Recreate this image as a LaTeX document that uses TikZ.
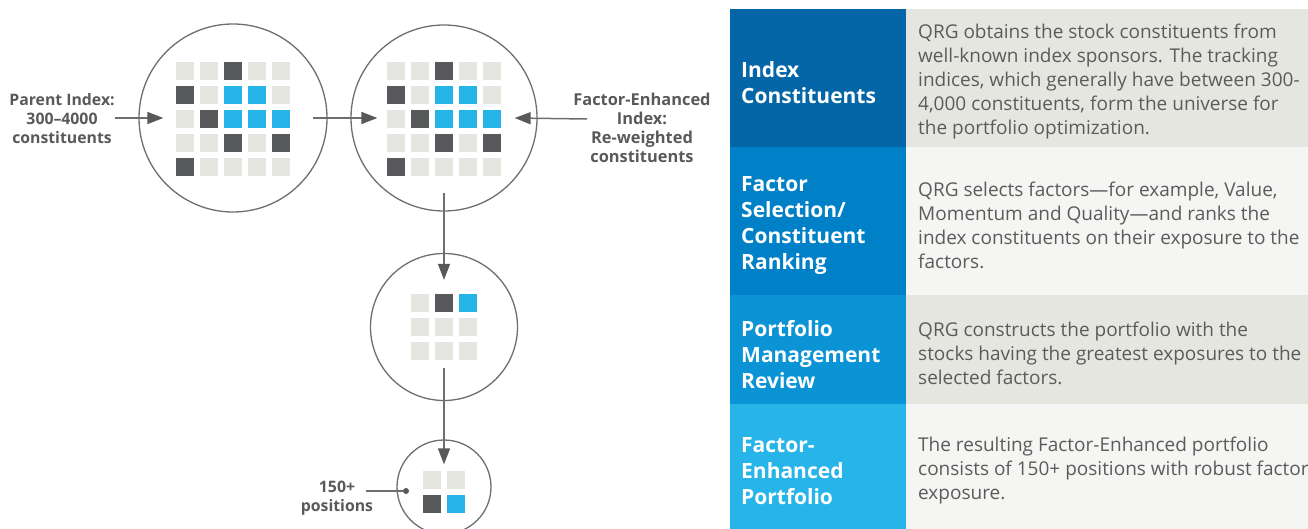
\documentclass[tikz,border=0pt]{standalone}
\usepackage{fontspec}
\setmainfont{Open Sans}
\usepackage{xcolor}
\usetikzlibrary{arrows.meta, positioning}

\definecolor{ringgrey}{HTML}{6D6E71}
\definecolor{tipgrey}{HTML}{58595B}
\definecolor{txtgrey}{HTML}{5B5B5B}
\definecolor{sqL}{HTML}{E6E6E1}
\definecolor{sqD}{HTML}{58595B}
\definecolor{sqB}{HTML}{27B4E8}
\definecolor{hdA}{HTML}{0466A6}
\definecolor{hdB}{HTML}{0080C6}
\definecolor{hdC}{HTML}{0A93D5}
\definecolor{hdD}{HTML}{27B4E8}
\definecolor{bdA}{HTML}{E6E6E1}
\definecolor{bdB}{HTML}{F5F5F3}

% grid of stock squares: top-left x, top-left y, rows of L/D/B
\newcommand{\stockgrid}[3]{%
  \foreach \cells [count=\rw from 0] in {#3}{
    \foreach \c [count=\cl from 0] in \cells
      \fill[sq\c] ({#1+24*\cl},{#2+24*\rw}) rectangle ++(18,18);
  }}

\tikzset{
  ring/.style={circle, draw=ringgrey, line width=1.3pt, inner sep=0pt},
  flow/.style={draw=ringgrey, line width=1.5pt, -{Triangle[length=16pt,width=12pt,color=tipgrey]}},
  lead/.style={draw=ringgrey, line width=1.5pt},
  dot/.style={circle, fill=tipgrey, inner sep=0pt, minimum size=6pt},
  lbl/.style={font=\fontsize{15.8}{19}\selectfont\bfseries, text=tipgrey, align=center, inner sep=0pt},
  cell/.style={anchor=north west, inner sep=0pt, outer sep=0pt},
  headtxt/.style={font=\fontsize{21}{26}\selectfont\bfseries, text=white, align=left, inner sep=0pt, yshift=-5pt},
  bodytxt/.style={font=\fontsize{19}{24}\selectfont, text=txtgrey, align=left, inner sep=0pt, yshift=-4pt}
}

\begin{document}
\begin{tikzpicture}[x=1pt, y=-1pt]
  \useasboundingbox (0,0) rectangle (1308,529);

  % circles
  \node[ring, minimum size=188pt] (universe) at (233,118) {};
  \node[ring, minimum size=186pt] (enhanced) at (444,118) {};
  \node[ring, minimum size=147pt] (ranked) at (444,327) {};
  \node[ring, minimum size=94pt] (portfolio) at (444,487) {};

  \stockgrid{176}{62}{{L,L,D,L,L},{D,L,B,B,L},{L,D,B,B,B},{L,L,D,L,D},{D,L,L,L,L}}
  \stockgrid{387}{62}{{L,L,D,L,L},{D,L,B,B,L},{L,D,B,B,B},{L,L,D,L,D},{D,L,L,L,L}}
  \stockgrid{411}{294}{{L,D,B},{L,L,L},{L,L,L}}
  \stockgrid{423}{471}{{L,L},{D,B}}

  % labels
  \node[lbl] (parentlbl) at (62,119) {Parent Index:\\300–4000\\constituents};
  \node[lbl, font=\fontsize{16.4}{19}\selectfont\bfseries] (enhancedlbl) at (642,128) {Factor-Enhanced\\Index:\\Re-weighted\\constituents};
  \node[lbl] (poslbl) at (337,498) {150+\\positions};
  \coordinate (enhin) at (587,119);
  \coordinate (posstart) at (366,491);
  \node[dot] (posdot) at (406,491) {};

  % connectors
  \draw[flow] (parentlbl.east |- universe.west) -- ([xshift=25pt]universe.west);
  \draw[flow] ([xshift=-15pt]universe.east) -- ([xshift=27pt]enhanced.west);
  \draw[flow] (enhin) -- ([xshift=-23pt]enhanced.east);
  \draw[flow] ([yshift=19pt]enhanced.south) -- ([yshift=-27pt]ranked.north);
  \draw[flow] ([yshift=33pt]ranked.south) -- ([yshift=-25pt]portfolio.north);
  \draw[lead] (posstart) -- (posdot);

  % table
  \node[cell, fill=hdA, minimum width=175.5pt, minimum height=138pt] (headA) at (730,9) {};
  \node[cell, fill=bdA, minimum width=402.5pt, minimum height=138pt] (bodyA) at (905.5,9) {};
  \node[cell, fill=hdB, minimum width=175.5pt, minimum height=148pt] (headB) at (730,147) {};
  \node[cell, fill=bdB, minimum width=402.5pt, minimum height=148pt] (bodyB) at (905.5,147) {};
  \node[cell, fill=hdC, minimum width=175.5pt, minimum height=109pt] (headC) at (730,295) {};
  \node[cell, fill=bdA, minimum width=402.5pt, minimum height=109pt] (bodyC) at (905.5,295) {};
  \node[cell, fill=hdD, minimum width=175.5pt, minimum height=125pt] (headD) at (730,404) {};
  \node[cell, fill=bdB, minimum width=402.5pt, minimum height=125pt] (bodyD) at (905.5,404) {};

  \node[headtxt, right=11pt of headA.west] (headAtxt) {Index\\Constituents};
  \node[headtxt, right=11pt of headB.west] (headBtxt) {Factor\\Selection/\\Constituent\\Ranking};
  \node[headtxt, right=11pt of headC.west] (headCtxt) {Portfolio\\Management\\Review};
  \node[headtxt, right=11pt of headD.west] (headDtxt) {Factor-\\Enhanced\\Portfolio};

  \node[bodytxt, right=12.5pt of bodyA.west] (bodyAtxt) {QRG obtains the stock constituents from\\well-known index sponsors. The tracking\\indices, which generally have between 300-\\4,000 constituents, form the universe for\\the portfolio optimization.};
  \node[bodytxt, right=12.5pt of bodyB.west] (bodyBtxt) {QRG selects factors—for example, Value,\\Momentum and Quality—and ranks the\\index constituents on their exposure to the\\factors.};
  \node[bodytxt, right=12.5pt of bodyC.west] (bodyCtxt) {QRG constructs the portfolio with the\\stocks having the greatest exposures to the\\selected factors.};
  \node[bodytxt, right=12.5pt of bodyD.west] (bodyDtxt) {The resulting Factor-Enhanced portfolio\\consists of 150+ positions with robust factor\\exposure.};
\end{tikzpicture}
\end{document}
